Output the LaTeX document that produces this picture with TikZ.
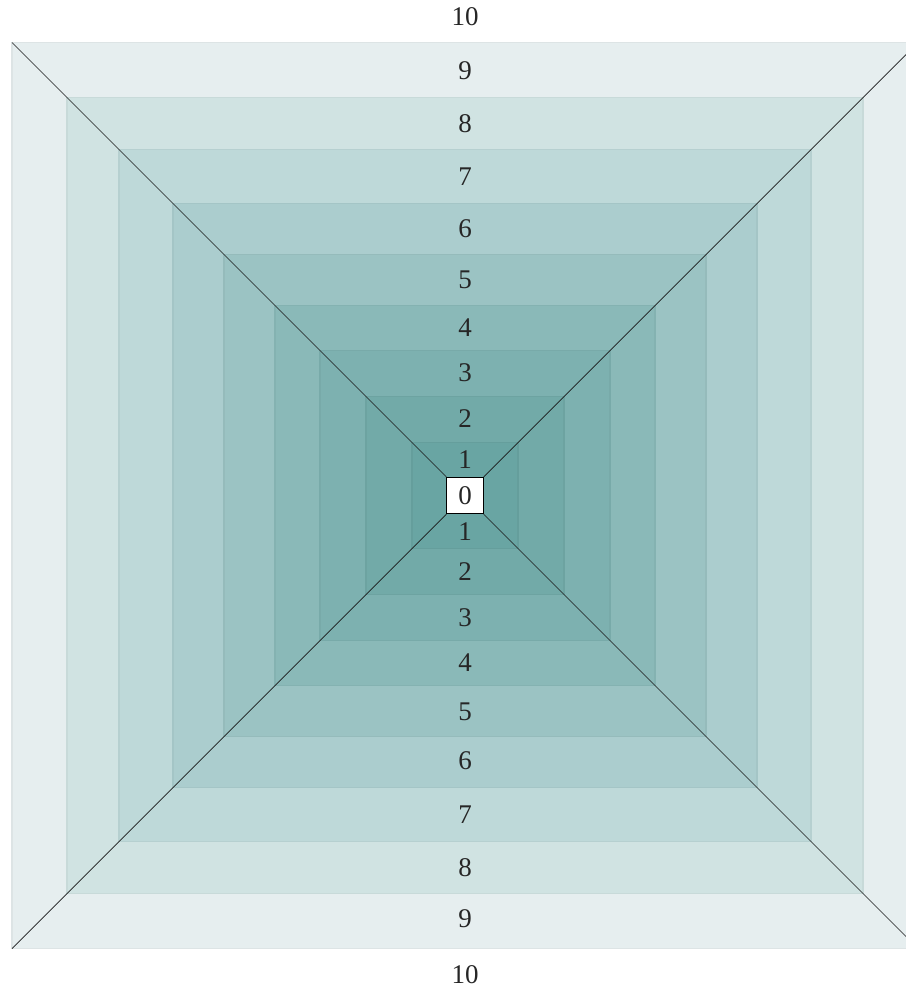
\documentclass[tikz,border=0pt]{standalone}
\usepackage{fontspec}
\setmainfont{Liberation Serif}

\definecolor{band9}{HTML}{E6EEEF}
\definecolor{band8}{HTML}{D0E3E2}
\definecolor{band7}{HTML}{BED9D9}
\definecolor{band6}{HTML}{ABCDCE}
\definecolor{band5}{HTML}{9BC3C3}
\definecolor{band4}{HTML}{8AB9B8}
\definecolor{band3}{HTML}{7DB1B0}
\definecolor{band2}{HTML}{72AAA8}
\definecolor{band1}{HTML}{69A5A3}

\begin{document}
\begin{tikzpicture}[
  x=1pt, y=-1pt,
  every node/.style={font=\fontsize{27}{30}\selectfont, inner sep=0pt, text=black!85},
  ring/.style={line width=1.6pt},
  diag/.style={draw=black!90, line width=0.7pt},
  centre/.style={draw=black, fill=white, line width=0.8pt, minimum size=36.5pt}
]
\useasboundingbox (0,0) rectangle (905,990);

% --- nested squares, outside in ---
\foreach \h/\c in {453/band9, 398/band8, 346/band7, 292/band6, 241/band5,
                   190/band4, 145/band3, 99/band2, 53/band1}
  \draw[ring, fill=\c, draw=\c!96!black] (465-\h,495.5-\h) rectangle (465+\h,495.5+\h);

% --- centre box ---
\node[centre] (c) at (465,495.5) {0};

% --- outer corners and diagonals ---
\coordinate (tl) at (12,42.5);
\coordinate (tr) at (918,42.5);
\coordinate (bl) at (12,948.5);
\coordinate (br) at (918,948.5);

\draw[diag] (tl) -- (c.north west);
\draw[diag] (tr) -- (c.north east);
\draw[diag] (bl) -- (c.south west);
\draw[diag] (br) -- (c.south east);

% --- labels above the centre ---
\foreach \n/\y in {10/17, 9/70.5, 8/124, 7/176.5, 6/228.5, 5/279.5,
                   4/327.5, 3/373, 2/419, 1/460}
  \node (t\n) at (465,\y) {\n};

% --- labels below the centre ---
\foreach \n/\y in {1/531.5, 2/572, 3/617.5, 4/663, 5/711.5, 6/761,
                   7/815, 8/867.5, 9/919, 10/975}
  \node (b\n) at (465,\y) {\n};

\end{tikzpicture}
\end{document}
